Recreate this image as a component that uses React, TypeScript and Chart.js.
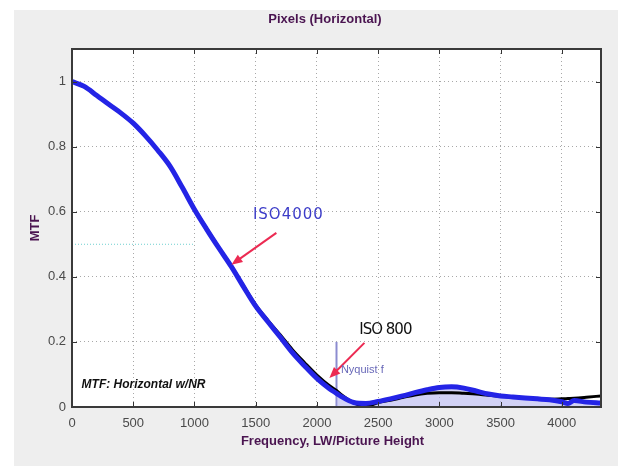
import React, { useEffect, useRef } from "react";
import { Chart, registerables } from "chart.js";

Chart.register(...registerables);

// Spatial frequency samples (LW/PH) and MTF for the two ISO settings
const freq = [0, 100, 200, 300, 400, 500, 600, 700, 800, 900, 1000, 1100, 1200, 1300, 1400, 1500, 1600, 1700, 1800, 1900, 2000, 2100, 2160, 2200, 2300, 2400, 2500, 2600, 2700, 2800, 2900, 3000, 3100, 3200, 3300, 3400, 3500, 3600, 3700, 3800, 3900, 4000, 4050, 4100, 4200, 4320];
const mtfIso4000 = [1.0, 0.985, 0.958, 0.93, 0.903, 0.872, 0.833, 0.789, 0.74, 0.675, 0.607, 0.546, 0.488, 0.432, 0.37, 0.31, 0.262, 0.215, 0.167, 0.126, 0.088, 0.057, 0.042, 0.032, 0.014, 0.011, 0.017, 0.025, 0.034, 0.044, 0.053, 0.06, 0.062, 0.058, 0.049, 0.04, 0.034, 0.031, 0.028, 0.025, 0.022, 0.016, 0.011, 0.02, 0.015, 0.012];
const mtfIso800 = [1.0, 0.984, 0.957, 0.929, 0.902, 0.871, 0.833, 0.789, 0.741, 0.676, 0.609, 0.548, 0.49, 0.434, 0.373, 0.314, 0.266, 0.222, 0.176, 0.136, 0.098, 0.066, 0.051, 0.038, 0.013, 0.001, 0.014, 0.021, 0.029, 0.037, 0.042, 0.044, 0.044, 0.042, 0.04, 0.036, 0.033, 0.03, 0.027, 0.025, 0.024, 0.025, 0.026, 0.027, 0.03, 0.034];

const xTicks = [0, 500, 1000, 1500, 2000, 2500, 3000, 3500, 4000];
const yTicks = [0, 0.2, 0.4, 0.6, 0.8, 1];
const xMax = 4320;
const yMax = 1.1;

const nyquistFreq = 2160;
const nyquistTop = 0.2;
const mtf50Level = 0.5;
const mtf50LineEnd = 1000;

// Annotation anchors in data units
const labelIso4000 = { text: "ISO4000", x: 1767, y: 0.59 };
const arrowIso4000 = { x0: 1669, y0: 0.535, x1: 1302, y1: 0.437 };
const labelIso800 = { text: "ISO 800", x: 2559, y: 0.237 };
const arrowIso800 = { x0: 2388, y0: 0.197, x1: 2102, y1: 0.089 };
const labelNyquist = { text: "Nyquist f", x: 2196, y: 0.114 };
const labelNote = { text: "MTF: Horizontal w/NR", x: 78, y: 0.068 };

const chartTitle = "Pixels (Horizontal)";
const xTitle = "Frequency, LW/Picture Height";
const yTitle = "MTF";

const FONT = "'Liberation Sans', Arial, Helvetica, sans-serif";
const PURPLE = "#4a1450";

function arrow(ctx: CanvasRenderingContext2D, x0: number, y0: number, x1: number, y1: number, color: string) {
  const ang = Math.atan2(y1 - y0, x1 - x0);
  const head = 11;
  const half = 4.5;
  ctx.save();
  ctx.strokeStyle = color;
  ctx.fillStyle = color;
  ctx.lineWidth = 2;
  ctx.beginPath();
  ctx.moveTo(x0, y0);
  ctx.lineTo(x1 - Math.cos(ang) * head * 0.8, y1 - Math.sin(ang) * head * 0.8);
  ctx.stroke();
  ctx.beginPath();
  ctx.moveTo(x1, y1);
  ctx.lineTo(x1 - Math.cos(ang) * head + Math.sin(ang) * half, y1 - Math.sin(ang) * head - Math.cos(ang) * half);
  ctx.lineTo(x1 - Math.cos(ang) * head - Math.sin(ang) * half, y1 - Math.sin(ang) * head + Math.cos(ang) * half);
  ctx.closePath();
  ctx.fill();
  ctx.restore();
}

const framePlugin = {
  id: "frame",
  beforeDraw(chart: any) {
    const { ctx, chartArea: a, width, height } = chart;
    ctx.save();
    ctx.fillStyle = "#ffffff";
    ctx.fillRect(0, 0, width, height);
    ctx.fillStyle = "#eeeeee";
    ctx.fillRect(14, 10, width - 14, height - 10);
    ctx.fillStyle = "#ffffff";
    ctx.fillRect(a.left, a.top, a.right - a.left, a.bottom - a.top);
    ctx.restore();
  },
  beforeDatasetsDraw(chart: any) {
    const { ctx, scales } = chart;
    const xs = scales.x;
    const ys = scales.y;
    ctx.save();
    // MTF50 reference level
    ctx.strokeStyle = "#6fd0d0";
    ctx.lineWidth = 1;
    ctx.setLineDash([1, 2]);
    ctx.beginPath();
    ctx.moveTo(xs.getPixelForValue(0), ys.getPixelForValue(mtf50Level));
    ctx.lineTo(xs.getPixelForValue(mtf50LineEnd), ys.getPixelForValue(mtf50Level));
    ctx.stroke();
    ctx.setLineDash([]);
    // Nyquist marker
    ctx.strokeStyle = "#8c8cd0";
    ctx.lineWidth = 2;
    ctx.beginPath();
    ctx.moveTo(xs.getPixelForValue(nyquistFreq), ys.getPixelForValue(0));
    ctx.lineTo(xs.getPixelForValue(nyquistFreq), ys.getPixelForValue(nyquistTop));
    ctx.stroke();
    ctx.restore();
  },
  afterDatasetsDraw(chart: any) {
    const { ctx, chartArea: a, scales } = chart;
    const xs = scales.x;
    const ys = scales.y;
    const px = (v: number) => xs.getPixelForValue(v);
    const py = (v: number) => ys.getPixelForValue(v);
    ctx.save();

    // inward tick marks on all four sides
    ctx.strokeStyle = "#333";
    ctx.lineWidth = 1;
    ctx.beginPath();
    xTicks.forEach((t) => {
      const x = Math.round(px(t)) + 0.5;
      ctx.moveTo(x, a.bottom);
      ctx.lineTo(x, a.bottom - 5);
      ctx.moveTo(x, a.top);
      ctx.lineTo(x, a.top + 5);
    });
    yTicks.forEach((t) => {
      const y = Math.round(py(t)) + 0.5;
      ctx.moveTo(a.left, y);
      ctx.lineTo(a.left + 5, y);
      ctx.moveTo(a.right, y);
      ctx.lineTo(a.right - 5, y);
    });
    ctx.stroke();

    // plot box
    ctx.strokeStyle = "#3a3a3a";
    ctx.lineWidth = 2;
    ctx.strokeRect(a.left, a.top, a.right - a.left, a.bottom - a.top);

    // annotations
    ctx.textBaseline = "middle";
    ctx.textAlign = "center";
    ctx.fillStyle = "#3c3cc8";
    ctx.font = `15px 'DejaVu Sans', sans-serif`;
    (ctx as any).letterSpacing = "1px";
    ctx.fillText(labelIso4000.text, px(labelIso4000.x), py(labelIso4000.y));
    (ctx as any).letterSpacing = "0px";
    arrow(ctx, px(arrowIso4000.x0), py(arrowIso4000.y0), px(arrowIso4000.x1), py(arrowIso4000.y1), "#ec2a52");

    ctx.fillStyle = "#111";
    ctx.font = `15px 'DejaVu Sans', sans-serif`;
    (ctx as any).letterSpacing = "-1px";
    ctx.fillText(labelIso800.text, px(labelIso800.x), py(labelIso800.y));
    (ctx as any).letterSpacing = "0px";
    arrow(ctx, px(arrowIso800.x0), py(arrowIso800.y0), px(arrowIso800.x1), py(arrowIso800.y1), "#ec2a52");

    ctx.textAlign = "left";
    ctx.fillStyle = "#6868b8";
    ctx.font = `11px ${FONT}`;
    ctx.fillText(labelNyquist.text, px(labelNyquist.x), py(labelNyquist.y));

    ctx.fillStyle = "#111";
    ctx.font = `italic bold 12px ${FONT}`;
    ctx.fillText(labelNote.text, px(labelNote.x), py(labelNote.y));

    // titles
    ctx.fillStyle = PURPLE;
    ctx.font = `bold 13px ${FONT}`;
    ctx.textAlign = "center";
    ctx.fillText(chartTitle, 325, 19);
    ctx.fillText(xTitle, (a.left + a.right) / 2 - 4, 441);
    ctx.save();
    ctx.translate(35, (a.top + a.bottom) / 2);
    ctx.rotate(-Math.PI / 2);
    ctx.fillText(yTitle, 0, 0);
    ctx.restore();

    ctx.restore();
  },
};

export default function App() {
  const canvasRef = useRef<HTMLCanvasElement | null>(null);

  useEffect(() => {
    const canvas = canvasRef.current;
    if (!canvas) return;
    const pts = (vals: number[]) => freq.map((f, i) => ({ x: f, y: vals[i] }));
    // shaded region under the ISO4000 curve past the Nyquist frequency
    const beyondNyquist = pts(mtfIso4000).filter((p) => p.x >= nyquistFreq);

    const chart = new Chart(canvas, {
      type: "line",
      data: {
        datasets: [
          {
            label: "ISO4000",
            data: pts(mtfIso4000),
            borderColor: "#2424e6",
            borderWidth: 5,
            pointRadius: 0,
            cubicInterpolationMode: "monotone",
            fill: false,
            order: 0,
          },
          {
            label: "ISO800",
            data: pts(mtfIso800),
            borderColor: "#000000",
            borderWidth: 3,
            pointRadius: 0,
            cubicInterpolationMode: "monotone",
            fill: false,
            order: 1,
          },
          {
            label: "beyond Nyquist",
            data: beyondNyquist,
            borderWidth: 0,
            borderColor: "rgba(0,0,0,0)",
            backgroundColor: "rgba(180,180,238,0.6)",
            pointRadius: 0,
            cubicInterpolationMode: "monotone",
            fill: "origin",
            order: 2,
          },
        ],
      },
      options: {
        animation: false,
        responsive: false,
        devicePixelRatio: 1,
        layout: { padding: { left: 0, top: 49, right: 17, bottom: 0 } },
        plugins: {
          legend: { display: false },
          tooltip: { enabled: false },
          title: { display: false },
        },
        scales: {
          x: {
            type: "linear",
            min: 0,
            max: xMax,
            afterFit: (s: any) => {
              s.height = 59;
            },
            afterBuildTicks: (s: any) => {
              s.ticks = xTicks.map((v) => ({ value: v }));
            },
            grid: {
              color: (c: any) => (c.tick && (c.tick.value === 0) ? "rgba(0,0,0,0)" : "#a8a8a8"),
              drawTicks: false,
            },
            border: { display: false, dash: [1, 3] },
            ticks: {
              padding: 9,
              color: "#4a4a4a",
              font: { family: FONT, size: 13 },
              maxRotation: 0,
              autoSkip: false,
              callback: (v: any) => String(v),
            },
          },
          y: {
            type: "linear",
            min: 0,
            max: yMax,
            afterFit: (s: any) => {
              s.width = 72;
            },
            afterBuildTicks: (s: any) => {
              s.ticks = yTicks.map((v) => ({ value: v }));
            },
            grid: {
              color: (c: any) => (c.tick && (c.tick.value === 0) ? "rgba(0,0,0,0)" : "#a8a8a8"),
              drawTicks: false,
            },
            border: { display: false, dash: [1, 3] },
            ticks: {
              padding: 6,
              color: "#4a4a4a",
              font: { family: FONT, size: 13 },
              autoSkip: false,
              callback: (v: any) => String(Math.round(v * 10) / 10),
            },
          },
        },
      },
      plugins: [framePlugin],
    } as any);

    return () => chart.destroy();
  }, []);

  return (
    <div style={{ position: "fixed", left: 0, top: 0, width: 618, height: 466 }}>
      <canvas ref={canvasRef} width={618} height={466} style={{ display: "block" }} />
    </div>
  );
}
